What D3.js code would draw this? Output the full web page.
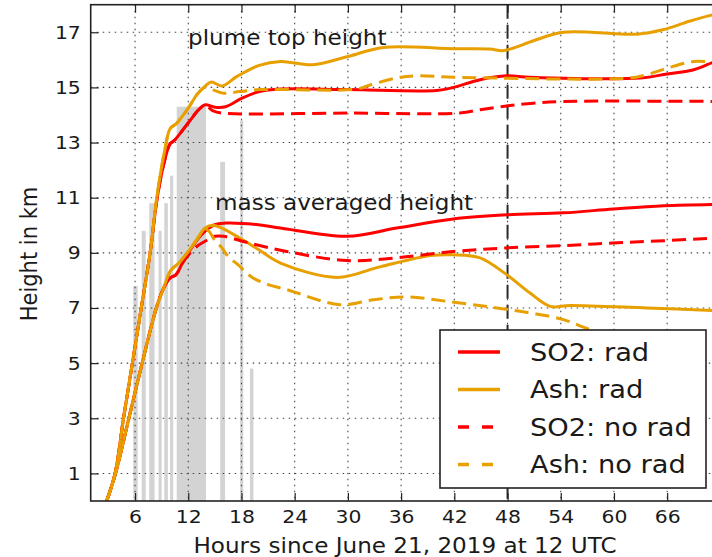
<!DOCTYPE html>
<html>
<head>
<meta charset="utf-8">
<script src="https://cdn.jsdelivr.net/npm/d3@7"></script>
<style>
  body { margin: 0; background: #fff; }
  svg { display: block; }
  text { font-family: "DejaVu Sans", sans-serif; fill: #1a1a1a; }
</style>
</head>
<body>
<div id="chart"></div>
<script>
// ---- data (hours since 2019-06-21 12 UTC, height in km) ----
const xTicks = [6, 12, 18, 24, 30, 36, 42, 48, 54, 60, 66];
const yTicks = [1, 3, 5, 7, 9, 11, 13, 15, 17];
const markerHour = 48;

// grey eruption bars: start hour, end hour, height
const barStart  = [5.8, 6.75, 7.6, 8.65, 9.3, 9.95, 10.7, 15.6, 17.85, 18.95];
const barEnd    = [6.3, 7.2, 8.2, 9.0, 9.7, 10.3, 14.0, 16.15, 18.2, 19.35];
const barHeight = [7.8, 9.8, 10.8, 9.8, 10.8, 11.8, 14.3, 12.3, 13.8, 4.8];

// plume top height
const so2RadTop = [[2.8,0],[3.75,1],[4.7,3],[5.7,5],[6.7,7],[7.7,9],[8.5,11],[9.3,12.3],[9.95,12.95],[10.5,13.1],[12.2,13.8],[13.2,14.2],[13.9,14.37],[15.0,14.28],[16.2,14.3],[18.0,14.6],[20.0,14.85],[22.4,14.94],[30,14.92],[40,14.89],[41.9,15.0],[44.9,15.28],[47.9,15.42],[50.5,15.37],[63,15.34],[66,15.49],[69,15.64],[71.1,15.9],[72,16.0]];
const ashRadTop = [[2.8,0],[3.75,1],[4.7,3],[5.7,5],[6.7,7],[7.7,9],[8.45,11],[9.4,12.8],[9.95,13.5],[10.7,13.7],[12.0,14.25],[13.0,14.75],[13.9,15.05],[14.6,15.2],[15.8,15.05],[17.5,15.4],[20,15.8],[22.4,15.94],[26,15.82],[30,16.12],[34,16.45],[42,16.4],[46,16.39],[47.4,16.33],[48.6,16.42],[51,16.7],[54.3,17.0],[62.6,16.93],[65.5,17.09],[68.5,17.4],[71.1,17.63],[72,17.68]];
const so2NoRadTop = [[2.8,0],[3.75,1],[4.7,3],[5.7,5],[6.7,7],[7.7,9],[8.5,11],[9.3,12.3],[9.95,12.95],[10.5,13.1],[12.2,13.8],[13.2,14.2],[13.9,14.35],[14.8,14.15],[15.8,14.07],[30,14.07],[42.6,14.07],[44.9,14.19],[47.9,14.33],[50.9,14.43],[54.3,14.49],[72,14.49]];
const ashNoRadTop = [[2.8,0],[3.75,1],[4.7,3],[5.7,5],[6.7,7],[7.7,9],[8.45,11],[9.4,12.8],[9.95,13.5],[10.7,13.7],[12.0,14.25],[13.0,14.75],[13.9,15.0],[14.3,14.97],[16,14.79],[17.8,14.85],[20,14.92],[31,14.94],[32.5,15.09],[35.5,15.34],[37.8,15.42],[42,15.37],[61.8,15.34],[63.7,15.46],[66,15.7],[69,15.94],[72,15.88]];

// mass averaged height
const so2RadMass = [[2.8,0],[3.8,1],[5.3,3],[6.8,5],[8.4,7],[9.2,7.7],[10.0,8.1],[10.6,8.2],[11.6,8.8],[12.2,9.1],[13.5,9.66],[15.0,10.02],[16.2,10.08],[19.9,10.02],[22.4,9.9],[29.9,9.6],[35.5,9.9],[41.9,10.23],[47.9,10.38],[54.3,10.45],[59.9,10.59],[65.6,10.71],[72,10.76]];
const ashRadMass = [[2.8,0],[3.8,1],[5.3,3],[6.8,5],[8.4,7],[9.2,7.7],[10.0,8.35],[11.0,8.65],[12.0,9.05],[13.0,9.5],[13.9,9.9],[14.85,10.0],[17.8,9.54],[20,9.1],[22.4,8.63],[28.8,8.11],[33.6,8.49],[39.3,8.9],[41.9,8.93],[44.9,8.82],[47.9,8.21],[50.5,7.55],[52.8,7.06],[55.1,7.09],[63.7,7.0],[72,6.9]];
const so2NoRadMass = [[2.8,0],[3.8,1],[5.3,3],[6.8,5],[8.4,7],[9.2,7.7],[10.0,8.1],[10.6,8.2],[11.6,8.75],[13.0,9.24],[13.9,9.42],[15.0,9.6],[16.0,9.6],[18.8,9.36],[23.1,9.05],[29.9,8.72],[35.5,8.82],[41.9,9.05],[47.9,9.18],[54.3,9.26],[59.9,9.36],[65.6,9.44],[72,9.55]];
const ashNoRadMass = [[2.8,0],[3.8,1],[5.3,3],[6.8,5],[8.4,7],[9.2,7.7],[10.0,8.35],[11.0,8.65],[12.0,9.05],[13.0,9.5],[13.9,9.85],[14.3,9.8],[15.0,9.45],[15.8,9.18],[16.5,8.87],[17.6,8.57],[18.4,8.33],[19.3,8.09],[21,7.85],[23.1,7.67],[29.1,7.12],[32.9,7.3],[36.6,7.4],[41.2,7.24],[46.8,7.0],[50.5,6.82],[54.3,6.58],[57.3,6.22],[62,5.8],[66,5.4],[70,5.0]];

const seriesNames = ['SO2: rad', 'Ash: rad', 'SO2: no rad', 'Ash: no rad'];

// ---- styles ----
const RED = '#ff0000', ORANGE = '#e8a000';
const seriesColor = [RED, ORANGE, RED, ORANGE];
const seriesDash = [null, null, '14,7', '14,7'];
const sx = 1.1; // the reference text is a little wider than tall

const width = 712, height = 557;
const svg = d3.select('#chart').append('svg')
    .attr('width', width)
    .attr('height', height);

const x = d3.scaleLinear().domain([1, 72]).range([90.7, 720.4]);
const y = d3.scaleLinear().domain([0, 18]).range([501, 4.7]);
const [x0, x1] = x.range();
const [yb, yt] = y.range();

svg.append('defs').append('clipPath').attr('id', 'plot')
  .append('rect').attr('x', x0).attr('y', yt).attr('width', x1 - x0).attr('height', yb - yt);

// bars
svg.append('g').selectAll('rect')
    .data(barHeight)
    .enter().append('rect')
    .attr('x', (d, i) => x(barStart[i]))
    .attr('width', (d, i) => x(barEnd[i]) - x(barStart[i]))
    .attr('y', d => y(d))
    .attr('height', d => y(0) - y(d))
    .attr('fill', '#d3d3d3');

// dotted grid
const grid = svg.append('g').attr('stroke', '#444').attr('stroke-width', 1.1).attr('stroke-dasharray', '1.5,4.5');
grid.selectAll('.gx').data(xTicks).enter().append('line')
    .attr('x1', d => x(d)).attr('x2', d => x(d)).attr('y1', yt).attr('y2', yb);
grid.selectAll('.gy').data(yTicks).enter().append('line')
    .attr('x1', x0).attr('x2', x1).attr('y1', d => y(d)).attr('y2', d => y(d));

// vertical marker at 48 h
svg.append('line')
    .attr('x1', x(markerHour)).attr('x2', x(markerHour))
    .attr('y1', yt).attr('y2', yb)
    .attr('stroke', '#2a2a2a').attr('stroke-width', 2).attr('stroke-dasharray', '14,6');

// lines
const line = d3.line().x(d => x(d[0])).y(d => y(d[1])).curve(d3.curveCatmullRom.alpha(0.5));
const lines = svg.append('g').attr('clip-path', 'url(#plot)');
const groups = [
    [so2RadMass, ashRadMass, so2NoRadMass, ashNoRadMass],
    [so2RadTop, ashRadTop, so2NoRadTop, ashNoRadTop]
];
for (let k = 0; k < 4; k++) {
    for (let g of groups) {
        lines.append('path')
            .attr('d', line(g[k]))
            .attr('fill', 'none')
            .attr('stroke', seriesColor[k])
            .attr('stroke-width', 3)
            .attr('stroke-linejoin', 'round')
            .attr('stroke-dasharray', seriesDash[k]);
    }
}

function label(px, py, str, size, anchor, rot) {
    return svg.append('text')
        .attr('transform', `translate(${px},${py}) scale(${sx},1)` + (rot ? ` rotate(${rot})` : ''))
        .attr('font-size', size)
        .attr('text-anchor', anchor || 'start')
        .text(str);
}

// annotations
label(188, 45, 'plume top height', 21);
label(215, 210, 'mass averaged height', 21);

// axes (inward ticks)
const axX = svg.append('g')
    .attr('transform', 'translate(0,' + yb + ')')
    .call(d3.axisBottom(x).tickValues(xTicks).tickSizeInner(-8).tickSizeOuter(0).tickPadding(8.5));
const axY = svg.append('g')
    .attr('transform', 'translate(' + x0 + ',0)')
    .call(d3.axisLeft(y).tickValues(yTicks).tickSizeInner(-8).tickSizeOuter(0).tickPadding(9));
const axT = svg.append('g')
    .attr('transform', 'translate(0,' + yt + ')')
    .call(d3.axisTop(x).tickValues(xTicks).tickSizeInner(-8).tickSizeOuter(0).tickFormat(''));
for (let ax of [axX, axY, axT]) {
    ax.select('.domain').remove();
    ax.selectAll('line').attr('stroke', '#222').attr('stroke-width', 1.2);
    ax.selectAll('text')
        .attr('font-size', 18.5)
        .attr('font-family', '"DejaVu Sans", sans-serif')
        .attr('fill', '#1a1a1a')
        .attr('transform', `scale(${sx},1)`);
}

// frame
svg.append('rect')
    .attr('x', x0).attr('y', yt).attr('width', x1 - x0).attr('height', yb - yt)
    .attr('fill', 'none').attr('stroke', '#222').attr('stroke-width', 1.6);

// axis titles
label(405, 553, 'Hours since June 21, 2019 at 12 UTC', 21, 'middle');
label(36.5, 254, 'Height in km', 21, 'middle', -90);

// legend
const lg = svg.append('g');
lg.append('rect')
    .attr('x', 440).attr('y', 330).attr('width', 266).attr('height', 158)
    .attr('fill', '#fff').attr('stroke', '#222').attr('stroke-width', 1.6);
seriesNames.forEach((name, i) => {
    const ly = 352 + i * 37.5;
    lg.append('line')
        .attr('x1', 458).attr('x2', 500).attr('y1', ly).attr('y2', ly)
        .attr('stroke', seriesColor[i]).attr('stroke-width', 3.5)
        .attr('stroke-dasharray', seriesDash[i] ? '11,13' : null);
    label(530, ly + 8.7, name, 24.8);
});
</script>
</body>
</html>
